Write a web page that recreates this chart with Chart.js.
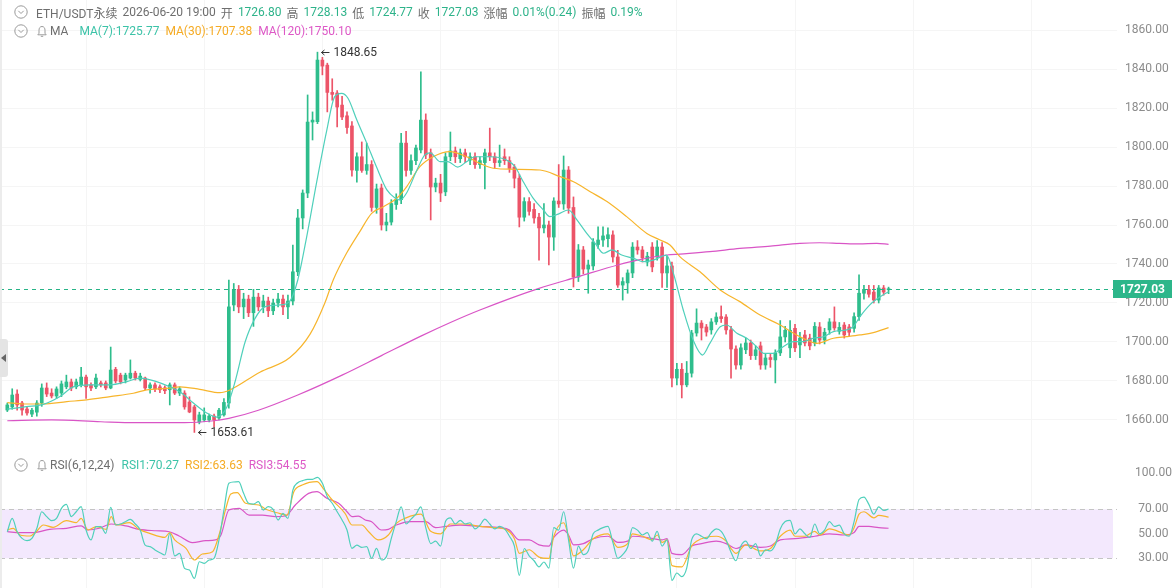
<!DOCTYPE html>
<html>
<head>
<meta charset="utf-8">
<script src="https://cdn.jsdelivr.net/npm/chart.js@4.4.1/dist/chart.umd.min.js"></script>
<style>
  body { margin:0; background:#fff; width:1175px; height:588px; overflow:hidden; position:relative;
         font-family: Roboto, "Noto Sans CJK SC", sans-serif; }
  #main { position:absolute; left:0; top:0; }
  #rsi { position:absolute; left:0; top:450px; }
  .hdr { position:absolute; left:14px; height:16px; display:flex; align-items:center; font-size:12px;
         white-space:nowrap; color:#6e6e6e; z-index:2; }
  .hdr span { margin-left:5px; }
  .hdr .ico { margin-right:2px; }
  .g { color:#2eb38a; }
  .c7 { color:#3cc3a8; }
  .c30 { color:#f5ab24; }
  .c120 { color:#dd58c6; }
  #edge { position:absolute; left:0; top:0; width:2px; height:588px; background:#ececec; }
  #tab { position:absolute; left:0; top:339px; width:8px; height:38px; background:#e4e4e4; border-radius:0 3px 3px 0; }
  #tab:after { content:""; position:absolute; left:1px; top:15px; border-style:solid; border-width:4px 5px 4px 0;
               border-color:transparent #666 transparent transparent; }
</style>
</head>
<body>
<canvas id="main" width="1175" height="450"></canvas>
<canvas id="rsi" width="1175" height="138"></canvas>
<div id="edge"></div>
<div id="tab"></div>

<div class="hdr" style="top:4px">
  <svg class="ico" width="14" height="14"><circle cx="7" cy="7" r="6.2" fill="none" stroke="#9a9a9a"/><path d="M4.3 5.8 L7 8.5 L9.7 5.8" fill="none" stroke="#9a9a9a"/></svg>
  <span style="margin-left:6px">ETH/USDT永续</span><span>2026-06-20 19:00</span>
  <span>开</span><span class="g">1726.80</span>
  <span>高</span><span class="g">1728.13</span>
  <span>低</span><span class="g">1724.77</span>
  <span>收</span><span class="g">1727.03</span>
  <span>涨幅</span><span class="g">0.01%(0.24)</span>
  <span>振幅</span><span class="g">0.19%</span>
</div>
<div class="hdr" style="top:23px">
  <svg class="ico" width="14" height="14"><circle cx="7" cy="7" r="6.2" fill="none" stroke="#9a9a9a"/><path d="M4.3 5.8 L7 8.5 L9.7 5.8" fill="none" stroke="#9a9a9a"/></svg>
  <svg width="12" height="13" style="margin-left:6px"><path d="M6 1.5 C3.9 1.5 3 3.3 3 5.2 L3 8.3 L1.8 9.8 L10.2 9.8 L9 8.3 L9 5.2 C9 3.3 8.1 1.5 6 1.5 Z" fill="none" stroke="#9a9a9a"/><path d="M4.8 11.3 H7.2" stroke="#9a9a9a"/></svg>
  <span style="margin-left:2px">MA</span>
  <span class="c7" style="margin-left:11px">MA(7):1725.77</span>
  <span class="c30" style="margin-left:6px">MA(30):1707.38</span>
  <span class="c120" style="margin-left:6px">MA(120):1750.10</span>
</div>
<div class="hdr" style="top:457px">
  <svg class="ico" width="14" height="14"><circle cx="7" cy="7" r="6.2" fill="none" stroke="#9a9a9a"/><path d="M4.3 5.8 L7 8.5 L9.7 5.8" fill="none" stroke="#9a9a9a"/></svg>
  <svg width="12" height="13" style="margin-left:6px"><path d="M6 1.5 C3.9 1.5 3 3.3 3 5.2 L3 8.3 L1.8 9.8 L10.2 9.8 L9 8.3 L9 5.2 C9 3.3 8.1 1.5 6 1.5 Z" fill="none" stroke="#9a9a9a"/><path d="M4.8 11.3 H7.2" stroke="#9a9a9a"/></svg>
  <span style="margin-left:2px">RSI(6,12,24)</span>
  <span class="c7" style="margin-left:7px">RSI1:70.27</span>
  <span class="c30" style="margin-left:6px">RSI2:63.63</span>
  <span class="c120" style="margin-left:6px">RSI3:54.55</span>
</div>

<script>
// candles, one per hour, oldest first
var opens = [
  1665.1,1666.7,1673.3,1668.7,1665.6,1663,1664,1668.7,1676.4,1673.8,
  1672.3,1673.8,1677,1679.5,1677,1678,1682,1678,1677,1679,
  1679,1676.4,1686,1683,1680.5,1681.5,1684,1680.8,1681.5,1676.4,
  1678,1677,1676.5,1675.5,1678,1673.8,1673.8,1669.2,1666.7,1659,
  1660,1660,1662,1661,1662.6,1668.7,1719,1727,1718,1722,
  1715,1723,1718,1721,1716,1720,1722,1718,1721,1736,
  1763.6,1776.4,1812.8,1813,1844.6,1842,1828,1827.7,1821.5,1816,
  1810.8,1788,1795,1788,1791,1769,1779,1760,1761.5,1770.5,
  1773,1802,1788,1793,1798.5,1813.8,1797,1779.5,1781.5,1777,
  1795,1798,1794,1797,1793.3,1795,1791,1792,1797,1795,
  1792,1795,1793,1789.7,1784,1764,1772,1768,1764,1758.5,
  1760,1753.8,1772.3,1770.8,1788.2,1769,1733.3,1747.2,1737.4,1739,
  1750,1752.3,1753,1754.9,1743.6,1729.2,1730.3,1735.4,1748.7,1747.2,
  1741,1748.7,1743.6,1748.7,1735.4,1739,1681.5,1686,1678,1684,
  1704.6,1709.7,1707.7,1706.2,1710.3,1713,1712.8,1706.2,1696.4,1688.2,
  1696,1699.5,1693,1698,1688.2,1692,1690.8,1694.4,1702.6,1697,
  1707,1698.5,1703.6,1702,1699.5,1707.7,1701,1706.2,1710.3,1705.5,
  1708.7,1707.7,1707,1713,1725,1727,1725.6,1721.5,1727.7,1726.8
];
var highs = [
  1668.7,1676,1675.5,1669.5,1667,1666,1670,1678.5,1679,1676,
  1677,1680,1683,1681,1681,1687,1683,1679,1683.5,1680,
  1680,1697.4,1687,1684,1684,1690.8,1685,1684,1682,1679,
  1679,1678,1677.5,1679,1679,1677,1675,1671.9,1667.5,1664,
  1666.2,1663,1663,1666,1671,1731.8,1730,1729,1725,1724,
  1727,1725,1724,1723,1722,1725,1724,1724,1749.7,1768,
  1778,1826.7,1818,1848.65,1846,1843,1835,1829,1826,1818,
  1813,1797,1802.6,1802,1793,1781,1781,1766,1773,1776,
  1807,1808,1796,1801,1838.5,1817,1799,1784,1786,1797,
  1807.7,1800,1799,1799,1797,1797,1795,1799,1809.7,1797,
  1801,1799,1795,1791,1786,1774,1774,1771,1766,1771,
  1762,1774,1791,1795.4,1790,1774.4,1750,1749,1742,1753,
  1759,1759,1758.5,1757,1747,1733,1737,1751,1752,1749,
  1746,1751,1752,1751,1744,1741,1689,1689,1690,1706,
  1717,1711,1709,1712,1715,1718.5,1714,1708,1698,1699,
  1702,1701,1698,1700,1694,1694,1696,1711,1708,1711,
  1709,1705,1706,1704,1710,1710,1707,1712,1718,1710,
  1710,1709,1715,1734.4,1729,1729,1729,1729,1729,1728.13
];
var lows = [
  1664.3,1665.5,1665,1662.5,1662.5,1661.7,1662,1667,1672,1671.3,
  1671,1672,1676,1675,1676,1677,1671,1675,1676,1677,
  1675.5,1676,1679,1678.5,1679,1681,1680.5,1680,1675.5,1673.8,
  1674.5,1674,1673.5,1667.7,1673,1672.5,1665.5,1663.7,1653.61,1658,
  1659.1,1659,1656.5,1660,1662,1666,1716,1715,1712,1713,
  1708,1716,1715,1713,1714,1718,1714,1712,1719,1734,
  1758,1774,1803.6,1812,1837,1818,1824,1810.3,1814,1807,
  1785,1782,1787,1786,1767,1766,1757.4,1757,1760,1768,
  1771,1785,1786,1791,1797,1794,1762.6,1777,1772,1775,
  1793,1792,1792,1792,1791,1789,1789,1778.5,1793,1789,
  1790,1791,1787,1779,1759,1762,1765,1761,1742,1756,
  1739.5,1747,1769,1768,1766,1728.2,1731,1735,1725,1737,
  1748,1749,1748.7,1741,1728,1721.5,1725,1733,1745,1741,
  1739,1736,1742,1728,1728,1677,1678,1671.3,1677,1682,
  1703,1701,1703,1704,1709,1710,1704,1681.5,1686,1686,
  1694,1691,1691,1686,1686,1687,1679,1693,1700,1692,
  1695,1692,1698,1696,1698,1699,1699,1704,1706,1704,
  1702,1703,1705,1711,1722,1723,1720,1720,1724,1724.77
];
var closes = [
  1667.7,1672.8,1667.7,1665.1,1663.6,1665,1668.7,1676.4,1673.3,1672.3,
  1675.9,1678.5,1679.5,1676.4,1679.5,1682,1677,1676.4,1681.5,1678,
  1676.4,1685.6,1680,1679.5,1683,1684,1681.5,1682.5,1676.4,1678,
  1675.9,1675.5,1675,1678,1673.8,1676,1666.7,1664.1,1660,1662.6,
  1662.6,1662,1660,1665,1669,1718,1727,1718,1722,1715,
  1723,1718,1721,1716,1720,1722,1718,1721,1736,1763.6,
  1776.4,1812.8,1813.8,1844.6,1841.5,1828,1827,1820.5,1815.4,1810,
  1788.2,1795,1788,1791,1769,1778.5,1760,1761.5,1771,1773,
  1802,1788,1793,1799.5,1813.8,1796,1779.5,1781.5,1776.4,1795,
  1798,1795,1797,1795,1795,1791,1793,1797,1795,1792,
  1793,1793,1789,1784,1764,1772,1767,1763.6,1758.5,1760,
  1753.8,1772.3,1770.8,1788.2,1768.7,1733.3,1747.2,1737.4,1739.5,1751.3,
  1752.3,1754.4,1755,1743.6,1729.2,1731,1735.4,1748.7,1747.2,1743.1,
  1744,1738.5,1748.7,1735.4,1739,1681.5,1686,1678,1684,1704.6,
  1709.7,1707.2,1705.1,1710.3,1712.8,1712,1706.2,1696.4,1688.2,1697,
  1699.5,1693,1696,1688.2,1691.8,1691,1694.4,1702.6,1706,1706,
  1697,1702,1699.5,1698,1708,1701,1705,1710.3,1707.2,1707.5,
  1703.6,1705,1713,1725,1727,1724.5,1721.5,1727.7,1725.6,1727.03
];

// moving averages: [candle index, price]
var ma7Pts = [[0,1665.6],[3.9,1666.8],[7.3,1668],[10.7,1672],[13.4,1677],[16.8,1678],[20.9,1678],[24.3,1679.7],
  [27,1681.5],[30.3,1679.7],[33,1677],[35.4,1673.8],[37.8,1668.7],[40.5,1663.6],[42.5,1661.5],[44.6,1666.7],
  [46.3,1680],[48.3,1700],[50.3,1712],[52.3,1718],[55.4,1719],[57.4,1721],[59,1731.8],[60.8,1753.8],
  [62.8,1781.5],[64.9,1808.7],[66.5,1825.8],[67.9,1827.5],[69.2,1825],[71,1813.8],[73,1802],[75,1789.7],
  [77.1,1778],[78.8,1773.8],[79.8,1772.8],[81.1,1776.4],[83.2,1788.2],[84.8,1796],[85.9,1797],[87.9,1792.5],
  [89.5,1792.5],[91.5,1789.7],[93.3,1792.5],[95,1795],[98.1,1795],[101.4,1793.3],[103.1,1790],[104.8,1782.2],
  [106.8,1773.8],[108.9,1767.7],[110.2,1764.3],[111.9,1765.6],[114,1767.7],[115.7,1762.6],[117.7,1755.7],
  [119.4,1750.6],[121.1,1745.5],[122.8,1747.2],[124.8,1744.6],[127.2,1742.9],[129.2,1741.2],[131.2,1742],
  [132.9,1743.8],[133.9,1744.6],[135.3,1735.2],[137.3,1716.4],[139.3,1701],[141.2,1693.3],[142.7,1699.3],
  [144.8,1707.8],[146.1,1708.7],[148.2,1704.5],[150.2,1701.9],[152.2,1697.6],[153.6,1694.2],[155.6,1694.2],
  [157.6,1697.6],[159.7,1700.2],[161.7,1700.2],[163.7,1701.9],[165.8,1702.7],[167.8,1705.3],[170.5,1706.2],
  [171.8,1707.8],[173.2,1713],[175.2,1719],[177.3,1723.2],[179,1725.77]];
var ma30Pts = [[0,1668.9],[3.2,1668.2],[7.3,1668.2],[12.1,1669.4],[16.1,1670.3],[20.9,1672],[25.6,1673.7],
  [28.3,1675.4],[32.4,1676.2],[35.1,1677],[39.1,1675.7],[43.2,1674],[45.2,1675.4],[51.3,1684.5],[57.4,1692],
  [61.5,1704],[64.5,1720],[66.2,1731.8],[68.9,1745.5],[71.6,1756.6],[74,1766],[76.4,1769.4],[79.1,1773.7],
  [81.1,1779.6],[83.8,1789.9],[86.5,1795],[89.9,1797.6],[93.3,1795],[96,1791.6],[98.7,1789.1],[102.8,1788.6],
  [108.2,1788.2],[112.3,1784.8],[115,1782.2],[118.4,1777.1],[121.8,1772],[125.8,1764.3],[129.9,1755.7],
  [132.6,1752.3],[134.6,1749.7],[136.6,1743.8],[140.7,1736],[144.8,1726.7],[148.8,1720.7],[152.9,1713.8],
  [157,1708.7],[159.7,1704.5],[162.4,1701],[164.4,1699.3],[167.8,1701.9],[170.5,1702.7],[173.2,1703.6],
  [175.9,1704.8],[179,1707.38]];
var ma120Pts = [[0,1659.6],[9,1660],[19,1659.1],[26,1658.6],[36,1658.6],[42,1659.6],[45,1660.8],[51,1665],
  [59,1672.8],[68,1683],[76,1693],[84,1703],[90,1710],[96,1716.4],[108,1727.5],[116,1733.5],[124,1739.5],
  [128,1742],[134,1744.6],[136.6,1745.1],[142.7,1746.3],[148.8,1748],[155,1749.2],[161,1750.6],[165,1750.9],
  [169,1750.6],[173,1750.3],[176.6,1750.6],[179,1750.1]];

// RSI(6) per candle, RSI(12) and RSI(24) read at [index, value]
var rsi1 = [
  51.7,62.6,51.7,46.3,44.4,46.3,54.5,68,64,60.7, 62.6,70.8,74,64,68,72.1,53.1,45,55.8,55.8,
  50.4,71.6,57.2,58,59.9,61.8,58,53.1,40.8,39.5, 36.8,34.6,32.7,50.4,31.9,34,21.8,20.4,13.6,27.2,
  25.9,28.6,30,45,69.4,91.2,92.3,92.6,83,74.9, 74.3,76.2,69.4,72.1,70,61.3,66.7,62.6,85.7,91.7,
  93.4,94.5,94.5,96.1,91.2,80.3,74.9,68,61.3,53.1, 38.1,40.8,39,39.5,30,38.1,28.6,31.3,46.3,59.9,
  72,58,62,66,72,55,42,44,40,60, 63,58,61,58,59,54,57,62,58,54,
  56,54,48,40,16,38,32,28,23,27, 22,55,53,68,45,22,40,33,36,50,
  53,55,56,43,30,33,39,55,53,49, 51,44,52,40,45,12,18,15,22,45,
  50,48,46,51,54,52,45,35,28,40, 44,38,42,32,37,36,41,54,60,61,
  50,54,50,47,58,50,53,60,56,57, 50,48,60,78,80,74,66,72,69,70.27
];
var rsi2Pts = [[0,53.1],[1.2,54.5],[2.6,49],[4.6,48.2],[5.9,51.7],[7.3,57.2],[9.3,55.3],[12,60.7],[14,59.1],
  [15,62.6],[16.4,53.1],[18.1,55.8],[20.1,53.6],[21.1,64],[22.1,57.2],[24.8,59.1],[26.8,53.6],[28.9,50.4],
  [32,47.1],[33,50.9],[34,45],[36.3,38.1],[38,28.6],[39.6,33.5],[41.7,35.4],[43,49],[44.4,70.8],[45.4,82.5],
  [46.7,83.6],[48.4,74.9],[51.1,73.5],[52.5,70],[54.8,67.2],[56.8,65.3],[58.2,84.4],[59.9,89.8],[62.9,92.6],
  [64.3,86.3],[66,77.6],[68.6,66.7],[70,57.2],[72,57.2],[73.4,51.7],[75.4,45],[77.4,49],[79,58.5],
  [81,63],[84,66],[86,52],[88,50],[90,58],[93,58],[96,56],[99,55],[101,54],[103,46],[104,34],[106,37],
  [108,31],[110,30],[111,48],[113,59],[114,48],[115,32],[117,37],[119,46],[122,50],[124,39],[126,42],
  [127,50],[129,48],[131,45],[132,49],[133,43],[134,45],[135,24],[137,23],[139,40],[140,44],[144,48],
  [146,44],[147,38],[148,34],[150,41],[153,36],[155,38],[157,48],[159,53],[160,48],[162,48],[164,52],
  [165,49],[167,54],[170,50],[171,49],[172,55],[173,66],[174,68],[176,63],[177,65],[179,63.63]];
var rsi3Pts = [[0,51.7],[2.6,50.9],[5.3,50.9],[8.6,53.6],[12,54.5],[15,56.4],[16.4,53.1],[18.7,54.5],[21.1,58],
  [24.1,56.4],[26.8,53.6],[30.2,52.5],[32.9,51.7],[34.9,48.2],[37.6,42.8],[40.3,44.4],[42.3,45],[43.4,49],
  [45,69.4],[47.1,70.8],[49.1,65.3],[51.8,65.3],[54.5,64],[56.5,64.5],[58.5,73.5],[61.2,83],[62.9,84.4],
  [64.9,79],[67.3,74.9],[69,68],[70,64],[71.3,64.5],[72.7,61.3],[74,59.9],[76,53.1],[77.4,53.6],[79,57.2],
  [82,60],[85,60],[87,55],[89,56],[92,57],[96,56],[100,55],[102,53],[104,45],[106,45],[108,41],[110,40],
  [111,47],[113,53],[114,49],[115,41],[117,42],[119,46],[122,48],[124,43],[126,44],[127,48],[130,47],
  [133,45],[134,46],[135,34],[137,33],[139,40],[141,42],[144,44],[146,42],[148,38],[150,41],[153,39],
  [155,40],[157,45],[160,46],[164,48],[167,50],[170,49],[172,51],[173,56],[175,56],[177,55],[179,54.55]];

var priceTicks = [1660, 1680, 1700, 1720, 1740, 1760, 1780, 1800, 1820, 1840, 1860];
var rsiTicks = [30, 50, 70, 100];

var upColor = "#2ebd8c";
var downColor = "#ec5468";
var ma7Color = "#4fd0bb";
var ma30Color = "#f7b52c";
var ma120Color = "#d955c6";

var idx = closes.map(function (c, i) { return i; });
var candleColors = closes.map(function (c, i) { return c >= opens[i] ? upColor : downColor; });

function pts(list) {
  return list.map(function (p) { return { x: p[0], y: p[1] }; });
}

function noPad(s) {
  s.paddingTop = 0; s.paddingBottom = 0; s.paddingLeft = 0; s.paddingRight = 0;
}

function xScale() {
  return {
    type: "linear", min: -1.483, max: 225.4, offset: false,
    afterFit: function (s) { s.height = 0; noPad(s); },
    afterBuildTicks: function (s) {
      var t = [];
      for (var v = 16; v < 225; v += 24) t.push({ value: v });
      s.ticks = t;
    },
    ticks: { display: false },
    grid: { color: "#f5f5f5", drawTicks: false, offset: false },
    border: { display: false }
  };
}

function lineSet(data, color, order) {
  return { type: "line", data: data, borderColor: color, borderWidth: 1.2, pointRadius: 0,
           cubicInterpolationMode: "monotone", order: order };
}

var priceMarks = {
  id: "priceMarks",
  afterDraw: function (chart) {
    var ctx = chart.ctx, area = chart.chartArea, x = chart.scales.x, y = chart.scales.y;
    var last = closes[closes.length - 1];
    var py = Math.round(y.getPixelForValue(last)) + 0.5;
    ctx.save();
    ctx.strokeStyle = "#27b487";
    ctx.lineWidth = 1;
    ctx.setLineDash([4, 4]);
    ctx.beginPath(); ctx.moveTo(area.left, py); ctx.lineTo(area.right - 4, py); ctx.stroke();
    ctx.setLineDash([]);
    ctx.fillStyle = "#2db68a";
    ctx.fillRect(area.right - 4, py - 9.5, 59, 18);
    ctx.fillStyle = "#fff";
    ctx.font = "bold 12px Roboto";
    ctx.textAlign = "center";
    ctx.textBaseline = "middle";
    ctx.fillText(last.toFixed(2), area.right + 25.5, py);

    // arrows at the highest high and lowest low
    var hi = highs.indexOf(Math.max.apply(null, highs));
    var lo = lows.indexOf(Math.min.apply(null, lows));
    [[hi, highs[hi]], [lo, lows[lo]]].forEach(function (m) {
      var ax = x.getPixelForValue(m[0]), ay = Math.round(y.getPixelForValue(m[1])) + 0.5;
      ctx.strokeStyle = "#333";
      ctx.beginPath();
      ctx.moveTo(ax + 4, ay); ctx.lineTo(ax + 12, ay);
      ctx.moveTo(ax + 7, ay - 2.5); ctx.lineTo(ax + 4, ay); ctx.lineTo(ax + 7, ay + 2.5);
      ctx.stroke();
      ctx.fillStyle = "#333";
      ctx.font = "12px Roboto";
      ctx.textAlign = "left";
      ctx.fillText(m[1].toFixed(2), ax + 16, ay);
    });
    ctx.restore();
  }
};

new Chart(document.getElementById("main"), {
  type: "bar",
  data: {
    datasets: [
      lineSet(pts(ma7Pts), ma7Color, 0),
      lineSet(pts(ma30Pts), ma30Color, 0),
      lineSet(pts(ma120Pts), ma120Color, 0),
      { type: "bar", data: idx.map(function (i) { return { x: i, y: [opens[i], closes[i]] }; }),
        backgroundColor: candleColors, barThickness: 3, minBarLength: 1, grouped: false, order: 1 },
      { type: "bar", data: idx.map(function (i) { return { x: i, y: [lows[i], highs[i]] }; }),
        backgroundColor: candleColors, barThickness: 1, grouped: false, order: 2 }
    ]
  },
  options: {
    responsive: false, animation: false, devicePixelRatio: 1,
    layout: { padding: 0 },
    plugins: { legend: { display: false }, tooltip: { enabled: false } },
    scales: {
      x: xScale(),
      y: {
        position: "right", min: 1644.6, max: 1875.4,
        afterFit: function (s) { s.width = 58; noPad(s); },
        afterBuildTicks: function (s) { s.ticks = priceTicks.map(function (v) { return { value: v }; }); },
        ticks: { color: "#8c8c8c", font: { size: 12, family: "Roboto" }, padding: 8, crossAlign: "center",
                 callback: function (v) { return Number(v).toFixed(2); } },
        grid: { color: "#f5f5f5", drawTicks: false },
        border: { display: false }
      }
    }
  },
  plugins: [priceMarks]
});

var rsiBand = {
  id: "rsiBand",
  beforeDatasetsDraw: function (chart) {
    var ctx = chart.ctx, area = chart.chartArea, y = chart.scales.y;
    var top = y.getPixelForValue(70), bot = y.getPixelForValue(30);
    ctx.save();
    ctx.fillStyle = "#f3e8fd";
    ctx.fillRect(area.left, top, area.right - 4 - area.left, bot - top);
    ctx.strokeStyle = "#c4c4c4";
    ctx.lineWidth = 1;
    ctx.setLineDash([5, 4]);
    [top, bot].forEach(function (p) {
      ctx.beginPath(); ctx.moveTo(area.left, Math.round(p) + 0.5); ctx.lineTo(area.right, Math.round(p) + 0.5); ctx.stroke();
    });
    ctx.restore();
  }
};

new Chart(document.getElementById("rsi"), {
  type: "line",
  data: {
    datasets: [
      lineSet(idx.map(function (i) { return { x: i, y: rsi1[i] }; }), ma7Color, 0),
      lineSet(pts(rsi2Pts), ma30Color, 0),
      lineSet(pts(rsi3Pts), ma120Color, 0)
    ]
  },
  options: {
    responsive: false, animation: false, devicePixelRatio: 1,
    layout: { padding: 0 },
    plugins: { legend: { display: false }, tooltip: { enabled: false } },
    scales: {
      x: xScale(),
      y: {
        position: "right", min: 5.76, max: 118.4,
        afterFit: function (s) { s.width = 58; noPad(s); },
        afterBuildTicks: function (s) { s.ticks = rsiTicks.map(function (v) { return { value: v }; }); },
        ticks: { color: "#8c8c8c", font: { size: 12, family: "Roboto" }, padding: 10, crossAlign: "center",
                 callback: function (v) { return Number(v).toFixed(2); } },
        grid: { display: false },
        border: { display: false }
      }
    }
  },
  plugins: [rsiBand]
});
</script>
</body>
</html>
